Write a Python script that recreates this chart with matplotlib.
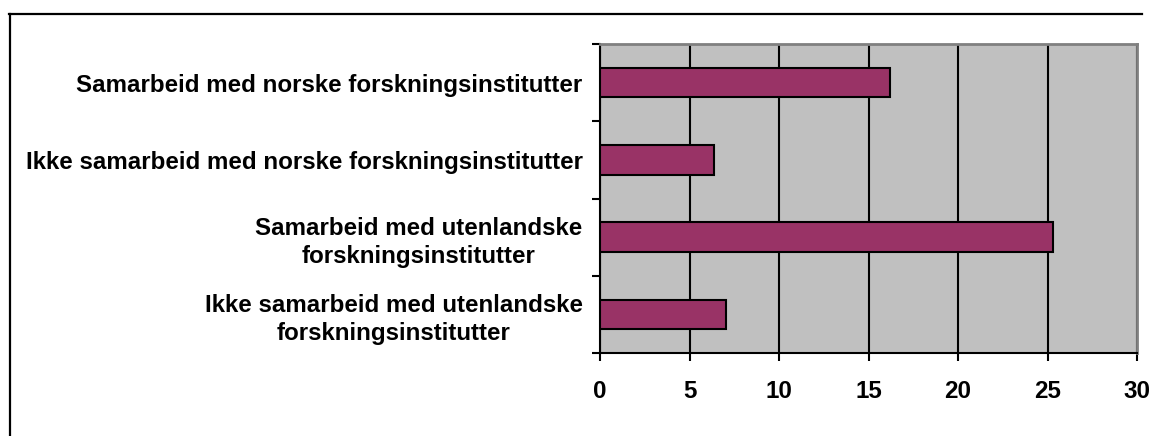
import matplotlib
matplotlib.use("Agg")
import matplotlib.pyplot as plt
from matplotlib.lines import Line2D
import numpy as np

# data
categories = [
    "Samarbeid med norske forskningsinstitutter",
    "Ikke samarbeid med norske forskningsinstitutter",
    "Samarbeid med utenlandske\nforskningsinstitutter",
    "Ikke samarbeid med utenlandske\nforskningsinstitutter",
]
values = [16.2, 6.35, 25.3, 7.05]
x_ticks = [0, 5, 10, 15, 20, 25, 30]

plt.rcParams['font.family'] = ['Liberation Sans', 'DejaVu Sans']
plt.rcParams['font.weight'] = 'bold'

W, H = 1151, 436
fig = plt.figure(figsize=(W / 100, H / 100), dpi=100)
ax = fig.add_axes([600 / W, 1 - 353 / H, (1137 - 600) / W, (353 - 44) / H])

ypos = np.arange(len(categories))
ax.barh(ypos, values, height=0.38, color='#993366', edgecolor='black', linewidth=1.5, zorder=3)

ax.set_facecolor('#C0C0C0')
ax.set_xlim(0, 30)
ax.set_ylim(len(categories) - 0.5, -0.5)

ax.set_xticks(x_ticks)
ax.set_xticklabels([str(t) for t in x_ticks], fontsize=17.4, fontweight='bold')
ax.xaxis.grid(True, color='black', linewidth=1.5, zorder=1)
ax.set_axisbelow(True)

# ticks at category boundaries, labels at centres
ax.set_yticks(np.arange(-0.5, len(categories), 1.0))
ax.set_yticklabels([])
ax.set_yticks(ypos, minor=True)
ax.set_yticklabels(categories, minor=True, fontsize=17.4, fontweight='bold',
                   multialignment='center', linespacing=1.3)
ax.tick_params(axis='y', which='minor', length=0, pad=12.5)
ax.tick_params(axis='y', which='major', direction='out', length=5.5, width=1.5)
ax.tick_params(axis='x', direction='out', length=5.5, width=1.5, pad=14)

for side in ['left', 'bottom']:
    ax.spines[side].set_color('black')
    ax.spines[side].set_linewidth(1.5)
for side in ['top', 'right']:
    ax.spines[side].set_color('#808080')
    ax.spines[side].set_linewidth(2)

# outer frame of the chart area (top and left edges visible)
fig.add_artist(Line2D([9 / W, 1142 / W], [1 - 14 / H, 1 - 14 / H],
                      transform=fig.transFigure, color='black', linewidth=1.6))
fig.add_artist(Line2D([10 / W, 10 / W], [0, 1 - 14 / H],
                      transform=fig.transFigure, color='black', linewidth=1.6))

fig.savefig("out.png", dpi=100)
